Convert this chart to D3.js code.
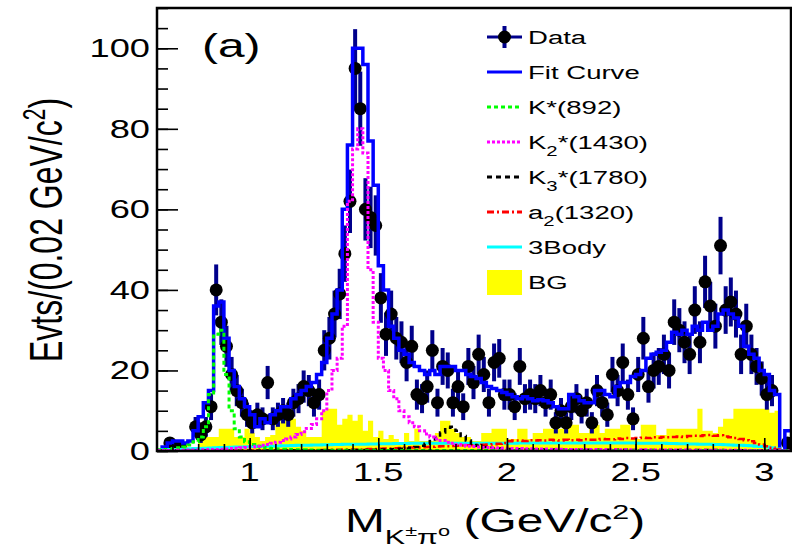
<!DOCTYPE html>
<html>
<head>
<meta charset="utf-8">
<script src="https://cdn.jsdelivr.net/npm/d3@7"></script>
<style>
  body { margin: 0; background: #fff; }
  svg { display: block; }
  text { font-family: "Liberation Sans", Arial, Helvetica, sans-serif; fill: #000; }
</style>
</head>
<body>
<svg id="chart" width="792" height="553"></svg>
<script>
// Binning of the K±π0 invariant-mass histogram (GeV/c²)
const binLow = 0.64;
const binWidth = 0.02;

// Events per bin
const dataCounts = [
  0,0,2,1,1,0,0,6,4,6,
  11,40,32,26,19,15,12,9,7,9,
  8,17,8,9,10,9,12,13,16,15,
  12,14,25,28,34,39,49,62,95,85,
  60,58,56,38,29,34,28,27,22,26,
  14,13,16,25,12,21,20,12,16,11,
  21,17,24,19,12,22,23,14,14,11,
  21,13,14,13,15,12,14,7,10,7,
  11,13,10,12,7,15,12,9,19,15,
  22,14,8,19,28,16,20,21,24,20,
  32,30,27,24,35,27,42,36,31,51,
  35,37,34,24,31,24,21,18,14,15,
  0,0,2
];

// Total fit
const fitCurve = [
  0,1,2,2.5,2.5,2,2.5,5,8.5,12,
  15,36,37,28,20,16,13,11,9,6,
  8,7,9,10,11,11,13,14,15,16,
  17,19,22,28,34,40,60,76,100,100,
  96,77,66,46,40,31,28,25,24,22,
  21,20,19,20,19,21,21,21,20,20,
  19,18.5,18,17,16,15.5,15,14.5,14,13.5,
  13,13.5,13,12.5,12.7,12.5,12,11,10.5,10.5,
  14,13.5,12.5,12,12,15,15,14,13.5,16,
  17,17,18.5,19,20,23,24,24.5,25,27,
  29.5,29,30,29,31,30,32,30,31,34,
  35,34,33,31,26,24,23,20,19,15,
  14,0,5
];

// K*(892) component
const kstar892 = [
  0.3,0.4,0.5,0.6,0.8,1,1.5,2.3,3.5,6,
  14,29,30,19,10,5.5,3.5,2.3,1.6,1.2,
  0.9,0.7,0.6,0.5,0.45,0.4,0.35,0.3,0.3,0.25,
  0.25,0.2,0.2,0.2,0.2,0.2,0.2,0.2,0.2,0.2,
  0.15,0.15,0.15,0.15,0.15,0.15,0.15,0.15,0.15,0.15,
  0.15,0.15,0.15,0.15,0.15,0.15,0.15,0.15,0.15,0.15,
  0.15,0.15,0.15,0.15,0.15,0.15,0.15,0.15,0.15,0.15,
  0.1,0.1,0.1,0.1,0.1,0.1,0.1,0.1,0.1,0.1,
  0.1,0.1,0.1,0.1,0.1,0.1,0.1,0.1,0.1,0.1,
  0.1,0.1,0.1,0.1,0.1,0.1,0.1,0.1,0.1,0.1,
  0.1,0.1,0.1,0.1,0.1,0.1,0.1,0.1,0.1,0.1,
  0.1,0.1,0.1,0.1,0.1,0.1,0.1,0.1,0.1,0.05,
  0.05,0,0
];

// K2*(1430) component
const k2star1430 = [
  0.1,0.1,0.15,0.15,0.2,0.2,0.25,0.25,0.3,0.3,
  0.35,0.4,0.45,0.5,0.6,0.7,0.8,0.9,1.0,1.2,
  1.4,1.6,1.9,2.2,2.6,3.0,3.5,4.1,4.8,5.6,
  6.6,8,10,15,20,23,31,62,75,80,
  74,45,32,23,20,15,13,10,8.5,7,
  6,5,4.2,3.5,3,2.6,2.2,1.9,1.6,1.4,
  1.2,1.1,1,0.9,0.85,0.8,0.75,0.7,0.65,0.6,
  0.6,0.55,0.55,0.5,0.5,0.5,0.45,0.45,0.45,0.4,
  0.4,0.4,0.4,0.35,0.35,0.35,0.35,0.3,0.3,0.3,
  0.3,0.3,0.3,0.3,0.3,0.25,0.25,0.25,0.25,0.25,
  0.25,0.25,0.25,0.2,0.2,0.2,0.2,0.2,0.2,0.2,
  0.2,0.2,0.2,0.2,0.2,0.15,0.15,0.15,0.15,0.1,
  0.1,0,0
];

// K3*(1780) component
const k3star1780 = [
  0.05,0.05,0.05,0.05,0.05,0.05,0.05,0.05,0.05,0.05,
  0.05,0.05,0.05,0.05,0.05,0.05,0.05,0.05,0.05,0.05,
  0.1,0.1,0.1,0.1,0.1,0.1,0.1,0.1,0.1,0.1,
  0.1,0.1,0.1,0.15,0.15,0.15,0.2,0.2,0.2,0.25,
  0.25,0.3,0.3,0.35,0.4,0.45,0.5,0.55,0.65,0.8,
  1,1.3,1.8,2.5,3.4,4.6,5.8,6,5,3.7,
  2.6,1.8,1.3,1,0.8,0.7,0.6,0.55,0.5,0.45,
  0.45,0.4,0.4,0.4,0.35,0.35,0.35,0.35,0.3,0.3,
  0.3,0.3,0.3,0.3,0.3,0.3,0.3,0.3,0.3,0.3,
  0.3,0.3,0.25,0.25,0.25,0.25,0.25,0.25,0.25,0.25,
  0.25,0.25,0.25,0.25,0.25,0.25,0.25,0.25,0.25,0.25,
  0.2,0.2,0.2,0.2,0.2,0.2,0.2,0.2,0.2,0.2,
  0.2,0,0
];

// a2(1320) component
const a2_1320 = [
  0.05,0.05,0.05,0.05,0.05,0.05,0.05,0.05,0.05,0.05,
  0.1,0.1,0.1,0.1,0.1,0.1,0.1,0.1,0.1,0.1,
  0.15,0.15,0.15,0.15,0.15,0.15,0.15,0.15,0.15,0.15,
  0.2,0.2,0.25,0.25,0.3,0.3,0.35,0.35,0.4,0.4,
  0.45,0.5,0.5,0.55,0.6,0.65,0.7,0.75,0.8,0.85,
  0.9,0.95,1,1.05,1.1,1.15,1.2,1.25,1.3,1.35,
  1.4,1.45,1.5,1.55,1.6,1.7,1.8,2,2.4,2.6,
  2.6,2.5,2.7,2.6,2.7,2.6,2.8,2.7,2.6,2.8,
  2.7,2.8,2.7,2.9,2.8,2.8,3,2.9,2.9,3.1,
  3,3.2,3.1,3.2,3.3,3.2,3.4,3.3,3.5,3.4,
  3.5,3.6,3.5,3.7,3.8,3.7,3.9,4,3.8,3.9,
  3.6,3.4,3.2,3,2.7,2.4,2,1.6,1.2,0.8,
  0.4,0,0
];

// Non-resonant three-body component
const threeBody = [
  0.2,0.3,0.35,0.4,0.45,0.5,0.55,0.6,0.65,0.7,
  0.75,0.8,0.85,0.9,0.95,1,1,1.05,1.1,1.1,
  1.15,1.2,1.2,1.25,1.3,1.3,1.35,1.4,1.4,1.45,
  1.5,1.5,1.55,1.55,1.6,1.6,1.65,1.65,1.7,1.7,
  1.7,1.75,1.75,1.8,1.8,1.8,1.85,1.85,1.85,1.9,
  1.9,1.9,1.9,1.9,1.9,1.9,1.9,1.9,1.9,1.9,
  1.95,1.95,1.95,1.95,1.95,1.95,1.95,1.95,1.95,1.95,
  2,2,2,2,2,2,2,2,2,2,
  2,2,2,2,2,2,2,2,2,2,
  2,2,2,1.95,1.95,1.95,1.9,1.9,1.9,1.85,
  1.85,1.8,1.8,1.75,1.75,1.7,1.7,1.65,1.6,1.6,
  1.55,1.5,1.45,1.4,1.35,1.3,1.2,1.1,1,0.8,
  0.5,0,0
];

// Background
const background = [
  0,0,1,2,1,1.5,0.5,1,3.5,3.5,
  3.5,3.5,5.5,5.5,5.5,3.5,3.5,5.5,4.5,3.5,
  2.5,3.5,4,7,7.5,8,8,6,5,3.5,
  3.5,3.5,10,10.5,10.5,6.5,8,9,7.5,9,
  5,7.5,3.5,5,3,4,3,2,4.5,2.5,
  5.5,2.5,2.5,2.5,4.5,7.5,7.5,5.5,4.5,3.5,
  3.5,2.5,2.5,4.5,4.5,5.5,5.5,5.5,3,3,
  5.5,5.5,3,4.5,4.5,5.5,5.5,5.5,5.5,6.5,
  6.5,6.5,4.5,4.5,6.5,6.5,4.5,5.5,5.5,5.5,
  6.5,6.5,3,3,6.5,6.5,6.5,4,4,5.5,
  5.5,5.5,5.5,5.5,5.5,10.5,5,5,4.5,6,
  8,8,10.5,10.5,10.5,10.5,10.5,10.5,10.5,9.5,
  10,0,0
];

// Axis ticks and their labels
const xTickValues = [1, 1.5, 2, 2.5, 3];
const xTickLabels = ["1", "1.5", "2", "2.5", "3"];
const yTickValues = [0, 20, 40, 60, 80, 100];
const yTickLabels = ["0", "20", "40", "60", "80", "100"];

// Legend entries (text pieces; "sub" pieces are subscripts)
const legendEntries = [
  { key: "data",  parts: [{ t: "Data" }] },
  { key: "fit",   parts: [{ t: "Fit Curve" }] },
  { key: "k892",  parts: [{ t: "K*(892)" }] },
  { key: "k1430", parts: [{ t: "K" }, { t: "2", sub: true }, { t: "*(1430)" }] },
  { key: "k1780", parts: [{ t: "K" }, { t: "3", sub: true }, { t: "*(1780)" }] },
  { key: "a2",    parts: [{ t: "a" }, { t: "2", sub: true }, { t: "(1320)" }] },
  { key: "three", parts: [{ t: "3Body" }] },
  { key: "bg",    parts: [{ t: "BG" }] }
];

// ---------------------------------------------------------------
const SX = 1.45;                       // horizontal stretch of the lettering
const plot = { left: 157, right: 790, top: 8, bottom: 451 };

const svg = d3.select("#chart");
const x = d3.scaleLinear().domain([0.64, 3.10]).range([plot.left, plot.right]);
const y = d3.scaleLinear().domain([0, 110]).range([plot.bottom, plot.top]);

const nBins = dataCounts.length;
const edges = d3.range(nBins + 1).map(i => binLow + i * binWidth);
const centers = d3.range(nBins).map(i => binLow + (i + 0.5) * binWidth);

const stepPoints = vals => vals.map((v, i) => [edges[i], v]).concat([[edges[nBins], vals[nBins - 1]]]);
const stepLine = d3.line().curve(d3.curveStepAfter).x(d => x(d[0])).y(d => y(d[1]));
const stepArea = d3.area().curve(d3.curveStepAfter).x(d => x(d[0])).y0(y(0)).y1(d => y(d[1]));

svg.append("clipPath").attr("id", "plotClip")
  .append("rect")
  .attr("x", plot.left).attr("y", plot.top)
  .attr("width", plot.right - plot.left).attr("height", plot.bottom - plot.top);

const marks = svg.append("g").attr("clip-path", "url(#plotClip)");

// background histogram (filled)
marks.append("path")
  .attr("d", stepArea(stepPoints(background)))
  .attr("fill", "#ffff00");

// data points with statistical error bars
const pts = d3.range(nBins).filter(i => dataCounts[i] > 0);
marks.append("g").selectAll("line").data(pts).join("line")
  .attr("x1", i => x(centers[i])).attr("x2", i => x(centers[i]))
  .attr("y1", i => y(dataCounts[i] + Math.sqrt(dataCounts[i])))
  .attr("y2", i => y(Math.max(0, dataCounts[i] - Math.sqrt(dataCounts[i]))))
  .attr("stroke", "#00008b").attr("stroke-width", 4);
marks.append("g").selectAll("circle").data(pts).join("circle")
  .attr("cx", i => x(centers[i])).attr("cy", i => y(dataCounts[i]))
  .attr("r", 6.5).attr("fill", "#000");

// fit and its components
const curves = [
  { vals: fitCurve,   color: "#0000ff", dash: null,        width: 3.5 },
  { vals: threeBody,  color: "#00ffff", dash: null,        width: 3 },
  { vals: a2_1320,    color: "#ff0000", dash: "7,3,2,3",   width: 2.5 },
  { vals: k3star1780, color: "#000000", dash: "5,4",       width: 2.5 },
  { vals: kstar892,   color: "#00ff00", dash: "4,3",       width: 3 },
  { vals: k2star1430, color: "#ff00ff", dash: "3,2",       width: 3 }
];
curves.forEach(c => {
  marks.append("path")
    .attr("d", stepLine(stepPoints(c.vals)))
    .attr("fill", "none")
    .attr("stroke", c.color)
    .attr("stroke-width", c.width)
    .attr("stroke-dasharray", c.dash);
});

// frame
svg.append("rect")
  .attr("x", plot.left).attr("y", plot.top)
  .attr("width", plot.right - plot.left + 1).attr("height", plot.bottom - plot.top)
  .attr("fill", "none").attr("stroke", "#000").attr("stroke-width", 2.5);

// ticks drawn inward, ROOT style
function tickAxis(gen, transform) {
  const g = svg.append("g").attr("transform", transform).call(gen);
  g.select(".domain").remove();
  g.selectAll("line").attr("stroke", "#000").attr("stroke-width", 1.6);
  return g;
}
tickAxis(d3.axisBottom(x).tickValues(x.ticks(25)).tickSize(-7).tickFormat(""), `translate(0,${plot.bottom})`);
tickAxis(d3.axisBottom(x).tickValues(xTickValues).tickSize(-13).tickFormat(""), `translate(0,${plot.bottom})`);
tickAxis(d3.axisLeft(y).tickValues(y.ticks(22)).tickSize(-11).tickFormat(""), `translate(${plot.left},0)`);
tickAxis(d3.axisLeft(y).tickValues(yTickValues).tickSize(-21).tickFormat(""), `translate(${plot.left},0)`);

// stretched text helper
function label(px, py, size, anchor, rotate) {
  return svg.append("text")
    .attr("transform", `translate(${px},${py}) scale(${SX},1)` + (rotate ? ` rotate(${rotate})` : ""))
    .attr("text-anchor", anchor)
    .style("font-size", size + "px");
}

xTickValues.forEach((v, i) => label(x(v), 481, 25, "middle").text(xTickLabels[i]));
yTickValues.forEach((v, i) => label(150, y(v) + 9, 25, "end").text(yTickLabels[i]));

// y title
const yt = label(62, 230, 32, "middle", -90);
yt.append("tspan").text("Evts/(0.02 GeV/c");
yt.append("tspan").attr("dy", -12).style("font-size", "21px").text("2");
yt.append("tspan").attr("dy", 12).text(")");

// x title
const xt = label(345, 532, 33, "start");
xt.append("tspan").text("M");
xt.append("tspan").attr("dy", 12).style("font-size", "21px").text("K");
xt.append("tspan").attr("dy", -8).style("font-size", "15px").text("±");
xt.append("tspan").attr("dy", 8).style("font-size", "21px").text("π");
xt.append("tspan").attr("dy", -8).style("font-size", "15px").text("o");
xt.append("tspan").attr("dy", -4).text(" (GeV/c");
xt.append("tspan").attr("dy", -13).style("font-size", "21px").text("2");
xt.append("tspan").attr("dy", 13).text(")");

// panel tag
label(202, 57, 33, "start").text("(a)");

// legend
const lg = svg.append("g");
const lx0 = 487, lx1 = 522, ltext = 528;
const rowY = i => 37 + i * 35;
const styleIndex = { fit: 0, three: 1, a2: 2, k1780: 3, k892: 4, k1430: 5 };
legendEntries.forEach((e, i) => {
  const yy = rowY(i);
  if (e.key === "data") {
    lg.append("line").attr("x1", lx0).attr("x2", lx1).attr("y1", yy).attr("y2", yy)
      .attr("stroke", "#00008b").attr("stroke-width", 3);
    lg.append("line").attr("x1", (lx0 + lx1) / 2).attr("x2", (lx0 + lx1) / 2)
      .attr("y1", yy - 11).attr("y2", yy + 11).attr("stroke", "#00008b").attr("stroke-width", 4);
    lg.append("circle").attr("cx", (lx0 + lx1) / 2).attr("cy", yy).attr("r", 6.5).attr("fill", "#000");
  } else if (e.key === "bg") {
    lg.append("rect").attr("x", lx0).attr("y", yy - 12).attr("width", lx1 - lx0).attr("height", 25)
      .attr("fill", "#ffff00");
  } else {
    const s = curves[styleIndex[e.key]];
    lg.append("line").attr("x1", lx0).attr("x2", lx1).attr("y1", yy).attr("y2", yy)
      .attr("stroke", s.color).attr("stroke-width", 3).attr("stroke-dasharray", s.dash);
  }
  const t = label(ltext, yy + 7, 19, "start");
  let shifted = false;
  e.parts.forEach(p => {
    const ts = t.append("tspan").text(p.t);
    if (p.sub) { ts.attr("dy", 7).style("font-size", "14px"); shifted = true; }
    else if (shifted) { ts.attr("dy", -7); shifted = false; }
  });
});
</script>
</body>
</html>
